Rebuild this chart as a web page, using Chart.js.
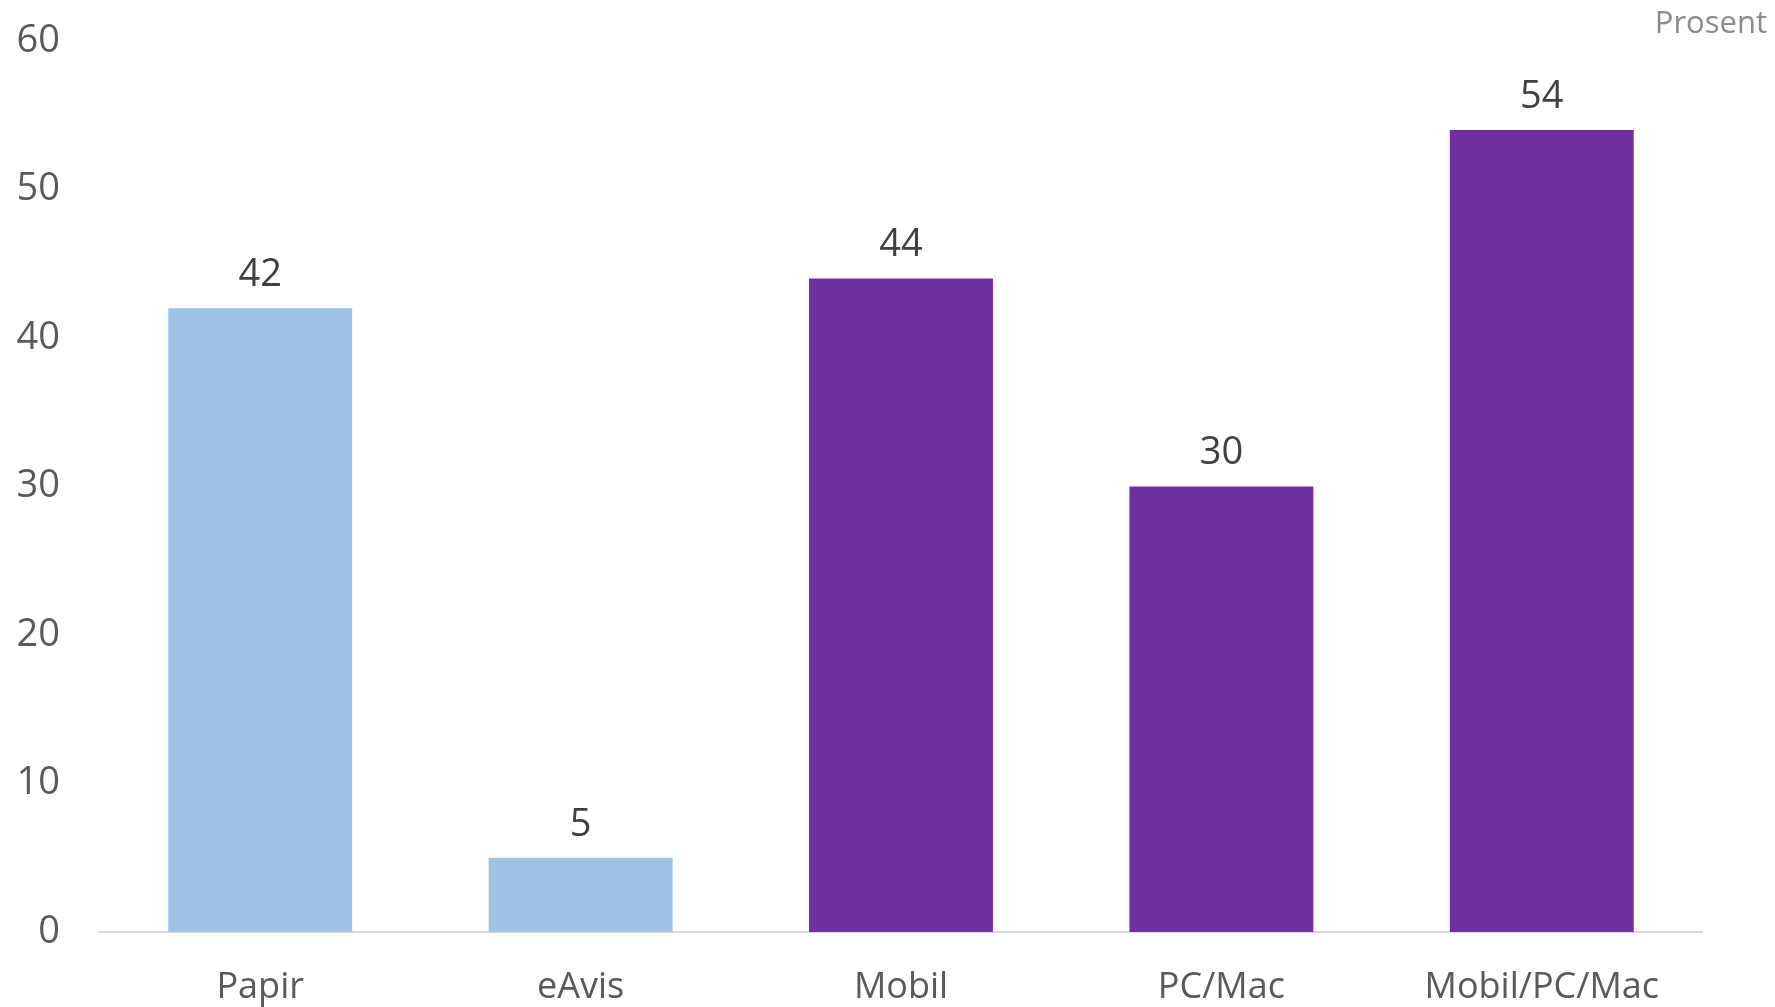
<!DOCTYPE html>
<html>
<head>
<meta charset="utf-8">
<script src="https://cdn.jsdelivr.net/npm/chart.js@4"></script>
<style>
  html, body { margin: 0; padding: 0; background: #fff; }
  #wrap { width: 1775px; height: 1007px; }
</style>
</head>
<body>
<div id="wrap"><canvas id="myChart" width="1775" height="1007"></canvas></div>
<script>
const CATEGORIES = ['Papir', 'eAvis', 'Mobil', 'PC/Mac', 'Mobil/PC/Mac'];
const VALUES = [42, 5, 44, 30, 54];
const COLORS = ['#9DC3E6', '#9DC3E6', '#7030A0', '#7030A0', '#7030A0'];
const Y_MIN = 0;
const Y_MAX = 60;
const Y_STEP = 10;
const UNIT = 'Prosent';

const FONT = "'Open Sans', sans-serif";

// value above each bar
const valueLabels = {
  id: 'valueLabels',
  afterDatasetsDraw(chart) {
    const ctx = chart.ctx;
    const meta = chart.getDatasetMeta(0);
    ctx.save();
    ctx.font = '38px ' + FONT;
    ctx.fillStyle = '#404040';
    ctx.textAlign = 'center';
    ctx.textBaseline = 'bottom';
    meta.data.forEach((bar, i) => {
      ctx.fillText(VALUES[i], bar.x, bar.y - 14);
    });
    ctx.restore();
  }
};

// "Prosent" in the top right corner
const unitLabel = {
  id: 'unitLabel',
  afterDraw(chart) {
    const ctx = chart.ctx;
    ctx.save();
    ctx.font = '31px ' + FONT;
    ctx.fillStyle = '#8C8C8C';
    ctx.textAlign = 'right';
    ctx.textBaseline = 'middle';
    ctx.fillText(UNIT, chart.width - 8, 24);
    ctx.restore();
  }
};

const data = {
  labels: CATEGORIES,
  datasets: [{
    data: VALUES,
    backgroundColor: COLORS,
    borderWidth: 0,
    categoryPercentage: 1,
    barPercentage: 0.574
  }]
};

const config = {
  type: 'bar',
  data: data,
  options: {
    responsive: false,
    animation: false,
    layout: {
      padding: {top: 41, right: 73, left: 0, bottom: 0}
    },
    plugins: {
      legend: {display: false},
      tooltip: {enabled: false},
      title: {display: false}
    },
    scales: {
      y: {
        min: Y_MIN,
        max: Y_MAX,
        afterFit: (axis) => {
          axis.width = 100;
          // tick padding would otherwise push the plot down
          axis.paddingTop = 0;
          axis.paddingBottom = 0;
        },
        grid: {display: false, drawTicks: false},
        border: {display: false},
        ticks: {
          stepSize: Y_STEP,
          padding: 40,
          color: '#595959',
          font: {family: FONT, size: 38}
        }
      },
      x: {
        afterFit: (axis) => { axis.height = 75; },
        grid: {display: false, drawTicks: false},
        border: {display: true, color: '#D9D9D9', width: 2},
        ticks: {
          padding: 34,
          color: '#595959',
          maxRotation: 0,
          autoSkip: false,
          font: {family: FONT, size: 36}
        }
      }
    }
  },
  plugins: [valueLabels, unitLabel]
};

const myChart = new Chart(document.getElementById('myChart'), config);
</script>
</body>
</html>
